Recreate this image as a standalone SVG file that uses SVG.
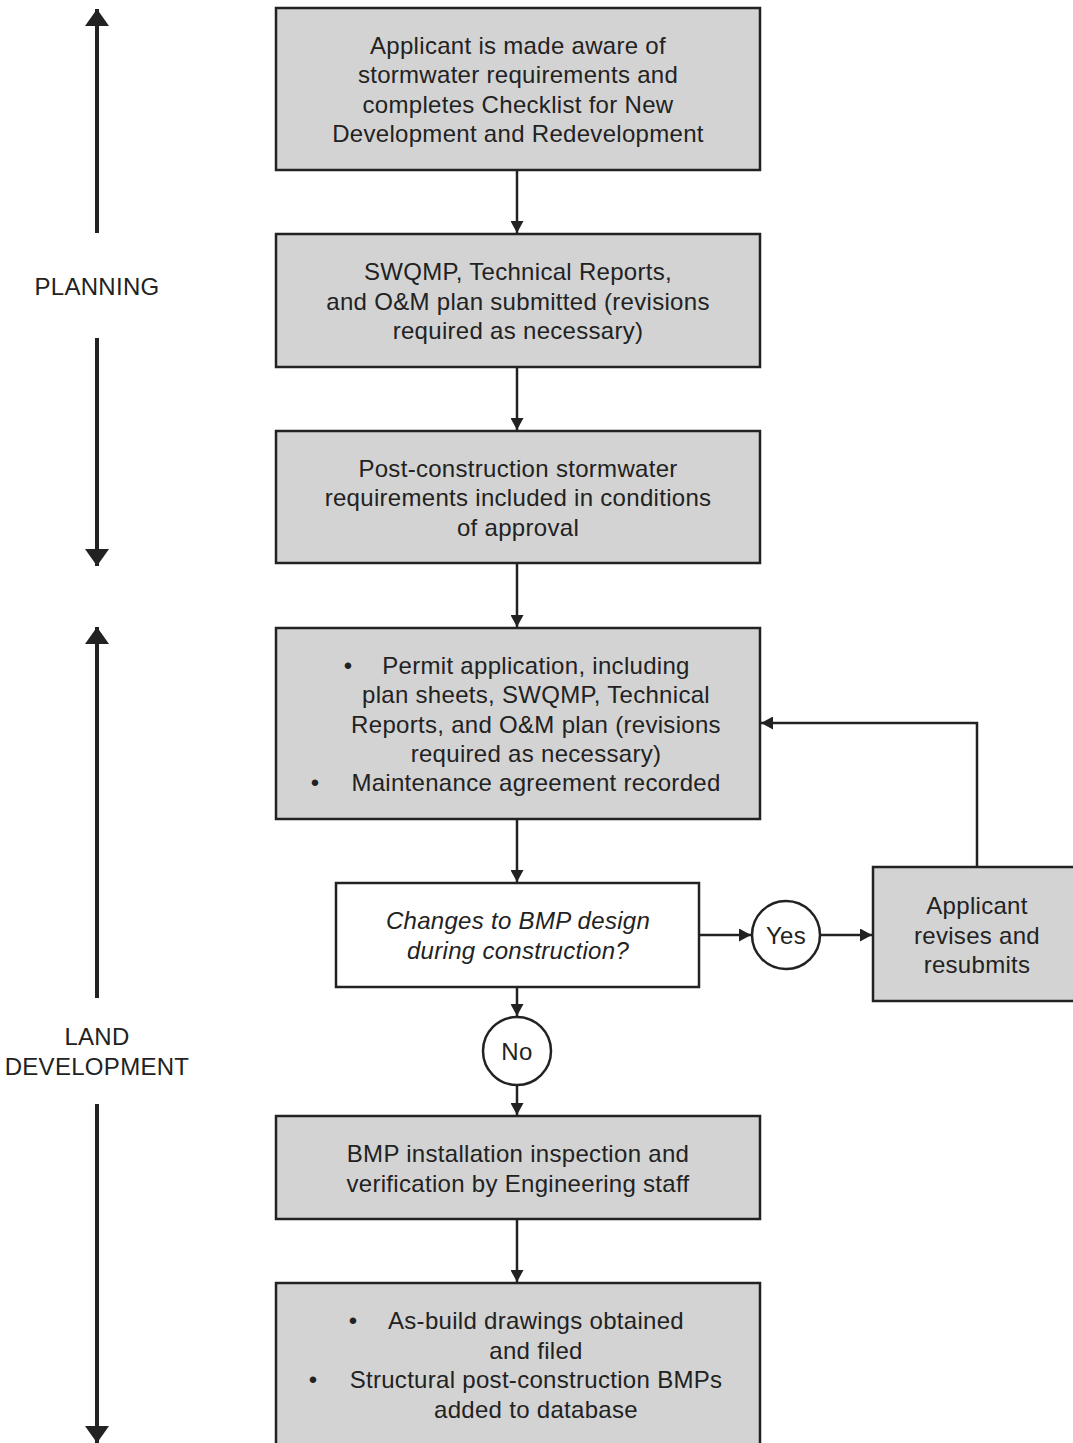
<svg xmlns="http://www.w3.org/2000/svg" width="1073" height="1443" viewBox="0 0 1073 1443">
<style>
.box{fill:#d3d3d3;stroke:#222;stroke-width:2.5}
.wbox{fill:#fff;stroke:#222;stroke-width:2.5}
.t{font-family:"Liberation Sans",Arial,sans-serif;font-size:24px;letter-spacing:0.3px;fill:#222;text-anchor:middle}
.i{font-style:italic}
.c{fill:none;stroke:#222;stroke-width:2.5}
.ax{fill:none;stroke:#222;stroke-width:4}
</style>
<defs>
<marker id="ah" viewBox="0 0 12 13" refX="12" refY="6.5" markerWidth="12" markerHeight="13" markerUnits="userSpaceOnUse" orient="auto">
<path d="M0,0 L12,6.5 L0,13 z" fill="#222"/>
</marker>
<marker id="ah2" viewBox="0 0 17 24" refX="17" refY="12" markerWidth="17" markerHeight="24" markerUnits="userSpaceOnUse" orient="auto">
<path d="M0,0 L17,12 L0,24 z" fill="#222"/>
</marker>
</defs>

<g id="phase-axes">
<line class="ax" x1="97" y1="233" x2="97" y2="9" marker-end="url(#ah2)"/>
<text class="t" x="97" y="295">PLANNING</text>
<line class="ax" x1="97" y1="338" x2="97" y2="566" marker-end="url(#ah2)"/>
<line class="ax" x1="97" y1="998" x2="97" y2="627" marker-end="url(#ah2)"/>
<text class="t" x="97" y="1045">LAND</text>
<text class="t" x="97" y="1075">DEVELOPMENT</text>
<line class="ax" x1="97" y1="1104" x2="97" y2="1443" marker-end="url(#ah2)"/>
</g>

<g id="connectors">
<line class="c" x1="517" y1="170" x2="517" y2="233" marker-end="url(#ah)"/>
<line class="c" x1="517" y1="367" x2="517" y2="430" marker-end="url(#ah)"/>
<line class="c" x1="517" y1="563" x2="517" y2="627" marker-end="url(#ah)"/>
<line class="c" x1="517" y1="819" x2="517" y2="882" marker-end="url(#ah)"/>
<line class="c" x1="517" y1="987" x2="517" y2="1016" marker-end="url(#ah)"/>
<line class="c" x1="517" y1="1085" x2="517" y2="1115" marker-end="url(#ah)"/>
<line class="c" x1="517" y1="1219" x2="517" y2="1282" marker-end="url(#ah)"/>
<line class="c" x1="699" y1="935" x2="751" y2="935" marker-end="url(#ah)"/>
<line class="c" x1="820" y1="935" x2="872" y2="935" marker-end="url(#ah)"/>
<polyline class="c" points="977,867 977,723 761,723" marker-end="url(#ah)"/>
</g>

<g id="n1">
<rect class="box" x="276" y="8" width="484" height="162"/>
<text class="t" x="518" y="54">Applicant is made aware of</text>
<text class="t" x="518" y="83">stormwater requirements and</text>
<text class="t" x="518" y="113">completes Checklist for New</text>
<text class="t" x="518" y="142">Development and Redevelopment</text>
</g>

<g id="n2">
<rect class="box" x="276" y="234" width="484" height="133"/>
<text class="t" x="518" y="280">SWQMP, Technical Reports,</text>
<text class="t" x="518" y="310">and O&amp;M plan submitted (revisions</text>
<text class="t" x="518" y="339">required as necessary)</text>
</g>

<g id="n3">
<rect class="box" x="276" y="431" width="484" height="132"/>
<text class="t" x="518" y="477">Post-construction stormwater</text>
<text class="t" x="518" y="506">requirements included in conditions</text>
<text class="t" x="518" y="536">of approval</text>
</g>

<g id="n4">
<rect class="box" x="276" y="628" width="484" height="191"/>
<text class="t" x="348" y="674">•</text>
<text class="t" x="536" y="674">Permit application, including</text>
<text class="t" x="536" y="703">plan sheets, SWQMP, Technical</text>
<text class="t" x="536" y="733">Reports, and O&amp;M plan (revisions</text>
<text class="t" x="536" y="762">required as necessary)</text>
<text class="t" x="315" y="791">•</text>
<text class="t" x="536" y="791">Maintenance agreement recorded</text>
</g>

<g id="n5">
<rect class="wbox" x="336" y="883" width="363" height="104"/>
<text class="t i" x="518" y="929">Changes to BMP design</text>
<text class="t i" x="518" y="959">during construction?</text>
</g>

<g id="yes">
<circle class="wbox" cx="786" cy="935" r="34"/>
<text class="t" x="786" y="944">Yes</text>
</g>

<g id="n6">
<rect class="box" x="873" y="867" width="210" height="134"/>
<text class="t" x="977" y="914">Applicant</text>
<text class="t" x="977" y="944">revises and</text>
<text class="t" x="977" y="973">resubmits</text>
</g>

<g id="no">
<circle class="wbox" cx="517" cy="1051" r="34"/>
<text class="t" x="517" y="1060">No</text>
</g>

<g id="n7">
<rect class="box" x="276" y="1116" width="484" height="103"/>
<text class="t" x="518" y="1162">BMP installation inspection and</text>
<text class="t" x="518" y="1192">verification by Engineering staff</text>
</g>

<g id="n8">
<rect class="box" x="276" y="1283" width="484" height="180"/>
<text class="t" x="353" y="1329">•</text>
<text class="t" x="536" y="1329">As-build drawings obtained</text>
<text class="t" x="536" y="1359">and filed</text>
<text class="t" x="313" y="1388">•</text>
<text class="t" x="536" y="1388">Structural post-construction BMPs</text>
<text class="t" x="536" y="1418">added to database</text>
</g>
</svg>
